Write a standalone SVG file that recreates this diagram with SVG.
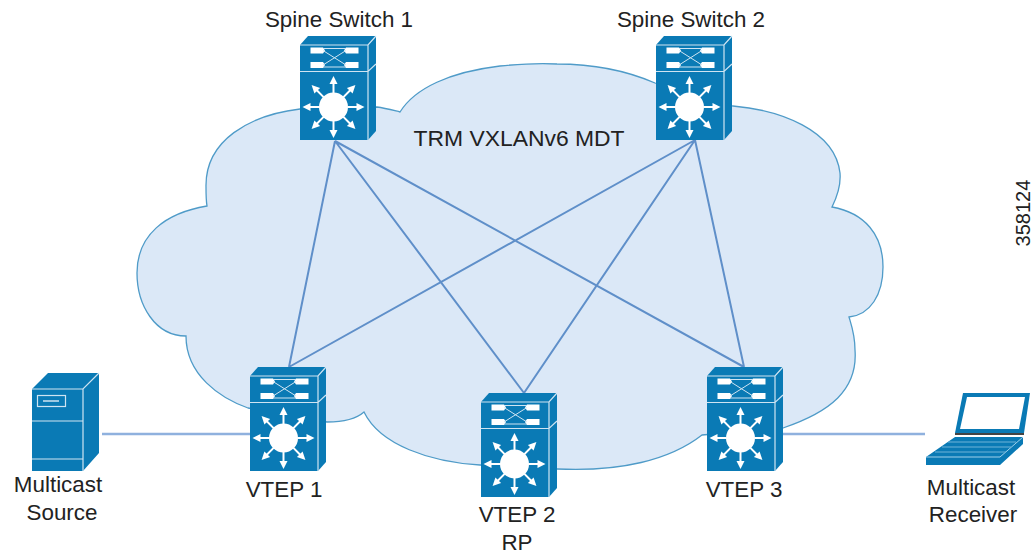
<svg xmlns="http://www.w3.org/2000/svg" xmlns:xlink="http://www.w3.org/1999/xlink" width="1036" height="554" viewBox="0 0 1036 554">
<style>
text{font-family:"Liberation Sans",Arial,sans-serif;font-size:22.4px;fill:#222;text-anchor:middle}
.b{fill:#0a7ab5}
.e{stroke:#5f8fc9;stroke-width:2;fill:none}
.h{stroke:#8fb1de;stroke-width:2.600;fill:none}
.w{stroke:#cfe4f2;stroke-width:1.200;fill:none}
.a{stroke:#fff;stroke-width:2;fill:none}
.t{fill:#fff}
</style>
<defs>
<g id="arrow"><path class="a" d="M0 -14V-25"/><path class="t" d="M0 -31l-4 8h8z"/></g>
<g id="sw">
<path class="b" d="M0 9L8 0H76L68 9z"/>
<path class="b" d="M0 9H68V104H0z"/>
<path class="b" d="M68 9L76 0V95L68 104z"/>
<path class="w" d="M0 9H68L76 0M68 9V104M0 35.500H68L76 28"/>
<path class="t" d="M10.500 11.500H23L25 14.500L23 17.500H10.500zM46 11.500H58.500V17.500H46L44 14.500zM10.500 26H23L25 29L23 32H10.500zM46 26H58.500V32H46L44 29z"/>
<path d="M23 12.500H46M23 31H46M23 14.500L46 29M23 29L46 14.500" stroke="#cfe4f2" stroke-width="1" fill="none"/>
<circle class="t" cx="33.500" cy="71" r="14.500"/>
<g transform="translate(33.500 71)">
<use xlink:href="#arrow" href="#arrow"/>
<use xlink:href="#arrow" href="#arrow" transform="rotate(45)"/>
<use xlink:href="#arrow" href="#arrow" transform="rotate(90)"/>
<use xlink:href="#arrow" href="#arrow" transform="rotate(135)"/>
<use xlink:href="#arrow" href="#arrow" transform="rotate(180)"/>
<use xlink:href="#arrow" href="#arrow" transform="rotate(225)"/>
<use xlink:href="#arrow" href="#arrow" transform="rotate(270)"/>
<use xlink:href="#arrow" href="#arrow" transform="rotate(315)"/>
</g>
</g>
</defs>
<g id="cloud">
<path fill="#dbe8f7" stroke="#4f9bc8" stroke-width="1.300" d="M300 109C250 115 205 140 206 187C206 195 206 200 207 206C165 213 137 235 137 273C137 305 155 336 186 336C186 375 220 398 248 408L327 422C340 422 355 420 364 412C380 445 430 462 480 465L557 469C620 472 670 460 702 435L783 428C830 412 858 390 855 350C855 335 852 327 849 317C870 315 883 295 883 267C883 235 865 213 832 207C838 195 841 185 840 173C835 130 780 110 733 106L655 83C625 70 590 64 557 64C540 63 520 64 500 66C450 72 415 88 400 112C392 110 385 108 377 107z"/>
</g>
<g id="connectors">
<path class="e" d="M335 141L289 367M335 141L524 393M335 141L744 367M695 140L289 367M695 140L524 393M695 140L744 367"/>
<path class="h" d="M102 434H250M783 434H925"/>
</g>
<g id="spine1"><use xlink:href="#sw" href="#sw" x="300" y="36"/><text x="339" y="27">Spine Switch 1</text></g>
<g id="spine2"><use xlink:href="#sw" href="#sw" x="656" y="36"/><text x="691" y="27">Spine Switch 2</text></g>
<g id="vtep1"><use xlink:href="#sw" href="#sw" x="250" y="367"/><text x="284" y="497">VTEP 1</text></g>
<g id="vtep2"><use xlink:href="#sw" href="#sw" x="481" y="393"/><text x="517" y="522">VTEP 2</text><text x="517" y="550">RP</text></g>
<g id="vtep3"><use xlink:href="#sw" href="#sw" x="707" y="367"/><text x="744" y="497">VTEP 3</text></g>
<g id="source">
<path class="b" d="M32 389L48 373H99L83 389zM32 389H83V471H32zM83 389L99 373V453L83 471z"/>
<path class="w" d="M32 389H83L99 373M83 389V471M32 421H83M32 459H83"/>
<rect x="37.500" y="395.500" width="28" height="11" fill="none" stroke="#cfe4f2" stroke-width="1.200"/>
<path d="M43 401H59" stroke="#cfe4f2" stroke-width="1.500"/>
<text x="58" y="492">Multicast</text><text x="62" y="520">Source</text>
</g>
<g id="receiver">
<path class="b" d="M963 393H1030L1024 433H955z"/>
<path fill="#fff" d="M967 397H1025L1019 429H960z"/>
<path fill="#444" d="M955 433H1024V435H955z"/>
<path class="b" d="M955 437H1023L1000 457H926zM926 457H1000V465H926zM1000 457L1023 437V444L1000 465z"/>
<path d="M926 457H1000L1023 437" stroke="#9fd0ea" stroke-width="1" fill="none"/>
<path d="M948 442H1016M942 447H1011M935 452H1006" stroke="#6fb3d8" stroke-width="1"/>
<text x="971" y="495">Multicast</text><text x="973" y="522">Receiver</text>
</g>
<text x="519" y="146" style="font-size:22.900px">TRM VXLANv6 MDT</text>
<text transform="translate(1030 213) rotate(-90)" style="font-size:20px">358124</text>
</svg>
